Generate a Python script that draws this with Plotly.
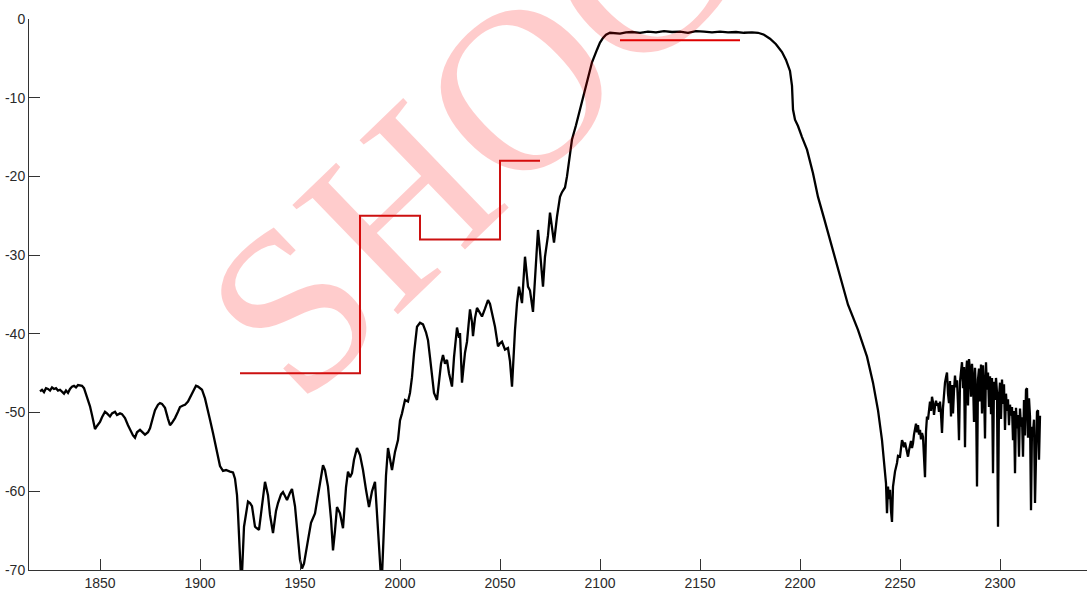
import plotly.graph_objects as go

# Measured filter response (MHz, dB)
freq_mhz = [
    1820, 1821, 1822, 1823, 1824, 1825, 1826, 1827, 1828, 1829, 1830, 1831, 1832, 1833, 1834, 1835,
    1836, 1837, 1838, 1839, 1840, 1841, 1842, 1843, 1844, 1845, 1846, 1847, 1847.5, 1848.5, 1850,
    1851, 1852.5, 1853.5, 1855, 1856, 1857.5, 1858.5, 1860, 1861, 1862.5, 1864, 1865, 1866.5, 1867.5,
    1868.5, 1870, 1871, 1872.5, 1874, 1875, 1876.5, 1877.5, 1879, 1880, 1881, 1882.5, 1884, 1885,
    1886, 1887.5, 1889, 1890, 1891.5, 1892.5, 1894, 1895, 1896.5, 1898, 1899, 1901, 1902.5, 1904,
    1905, 1906.5, 1908.5, 1910, 1911.5, 1913, 1915, 1916.5, 1917.5, 1918.5, 1919, 1920, 1920.5, 1921,
    1922, 1924, 1925, 1926, 1927.5, 1929.5, 1931, 1932.5, 1934, 1935, 1936.5, 1938, 1939, 1940.5,
    1941.5, 1942.5, 1943.5, 1945, 1946, 1947.5, 1948.5, 1950, 1951, 1952, 1954, 1955.5, 1957.5, 1959,
    1961.5, 1962.5, 1964, 1965.5, 1966.5, 1967.5, 1968.5, 1970, 1971.5, 1973, 1974, 1975, 1976, 1977,
    1978.5, 1980, 1981.5, 1983, 1984.5, 1986, 1987.5, 1989, 1990, 1990.5, 1991, 1992, 1993, 1994,
    1995, 1996, 1997.5, 1999, 2000, 2001, 2002.5, 2004, 2005, 2006, 2007, 2008.5, 2010, 2011.5, 2013,
    2014, 2015, 2016, 2017, 2018.5, 2019.5, 2020.5, 2021.5, 2022.5, 2023.5, 2024.5, 2026, 2027,
    2028.5, 2029.5, 2030, 2031, 2032.5, 2033.5, 2035, 2036, 2036.5, 2037.5, 2038.5, 2040, 2041,
    2042.5, 2044, 2045, 2046.5, 2047.5, 2049, 2050, 2051, 2052.5, 2054, 2055, 2056, 2056.5, 2057.5,
    2058.5, 2059.5, 2061, 2062.5, 2064, 2065, 2066.5, 2068, 2069, 2070, 2071.5, 2072.5, 2074, 2075,
    2076, 2077, 2078.5, 2080, 2081, 2082.5, 2083.5, 2084, 2085, 2086, 2088, 2090, 2092, 2094, 2096,
    2098.5, 2100, 2101.5, 2103, 2105, 2107, 2110, 2113, 2116, 2120, 2124, 2128, 2132, 2136, 2140,
    2144, 2148, 2152, 2156, 2160, 2164, 2168, 2172, 2176, 2179, 2182, 2185, 2188, 2191, 2193, 2195,
    2196, 2196.5, 2197.5, 2199, 2201, 2203.5, 2206.5, 2209, 2212, 2216, 2220, 2224, 2229, 2233.5,
    2236.5, 2239, 2241, 2242, 2242.5, 2243, 2243.5, 2244, 2244.5, 2245, 2245.5, 2246, 2246.5, 2247,
    2247.5, 2248.5, 2249, 2250, 2250.5, 2251, 2251.5, 2252, 2252.5, 2253, 2253.5, 2254, 2254.5, 2255,
    2255.5, 2256, 2256.5, 2257, 2257.5, 2258, 2258.5, 2259, 2259.5, 2260, 2260.5, 2261, 2261.5, 2262,
    2262.5, 2263, 2263.5, 2264, 2264.5, 2265, 2265.5, 2266, 2266.5, 2267, 2267.5, 2268, 2268.5, 2269,
    2269.5, 2270, 2270.5, 2271, 2271.5, 2272, 2272.5, 2273, 2273.5, 2274, 2274.5, 2275, 2275.5, 2276,
    2276.5, 2277, 2277.5, 2278, 2278.5, 2279, 2279.5, 2280, 2280.5, 2281, 2281.5, 2282, 2282.5, 2283,
    2283.5, 2284, 2284.5, 2285, 2285.5, 2286, 2286.5, 2287, 2287.5, 2288, 2288.5, 2289, 2289.5, 2290,
    2290.5, 2291, 2291.5, 2292, 2292.5, 2293, 2293.5, 2294, 2294.5, 2295, 2295.5, 2296, 2296.5, 2297,
    2297.5, 2298, 2298.5, 2299, 2299.5, 2300, 2300.5, 2301, 2301.5, 2302, 2302.5, 2303, 2303.5, 2304,
    2304.5, 2305, 2305.5, 2306, 2306.5, 2307, 2307.5, 2308, 2308.5, 2309, 2309.5, 2310, 2310.5, 2311,
    2311.5, 2312, 2312.5, 2313, 2313.5, 2314, 2314.5, 2315, 2315.5, 2316, 2316.5, 2317, 2317.5, 2318,
    2318.5, 2319, 2319.5, 2320,
]

level_db = [
    -47.3, -47.1, -47.4, -46.9, -47.0, -47.2, -46.8, -47.0, -46.9, -47.2, -47.1, -47.4, -47.6, -47.2, -47.5, -47.0,
    -46.7, -46.6, -46.8, -46.5, -46.6, -46.6, -46.9, -47.6, -48.3, -49.2, -50.3, -51.5, -52.1, -51.7, -51.2,
    -50.6, -49.9, -50.1, -50.5, -50.1, -49.9, -50.3, -50.1, -50.2, -50.7, -51.6, -52.2, -52.9, -53.2,
    -52.5, -52.2, -52.4, -52.8, -52.5, -52.0, -50.6, -49.7, -49.0, -48.8, -48.9, -49.4, -50.8, -51.6,
    -51.3, -50.7, -49.9, -49.3, -49.1, -49.0, -48.6, -48.1, -47.3, -46.6, -46.7, -47.1, -48.2, -49.7,
    -50.9, -52.6, -55.1, -56.8, -57.4, -57.3, -57.5, -57.6, -58.4, -60.5, -62.8, -68.0, -71.0, -70.5,
    -64.5, -61.3, -61.5, -61.9, -64.5, -64.9, -61.5, -58.8, -60.5, -63.0, -65.3, -62.5, -61.5, -60.4,
    -60.1, -60.6, -61.1, -60.2, -59.7, -61.9, -64.5, -68.7, -69.8, -69.2, -66.2, -64.0, -62.8, -60.5,
    -56.7, -57.3, -59.4, -63.5, -67.5, -65.0, -62.0, -62.8, -64.7, -59.5, -57.5, -58.2, -57.7, -56.0,
    -54.5, -55.4, -57.3, -59.8, -62.0, -60.0, -58.8, -64.9, -69.0, -71.0, -70.8, -64.1, -58.0, -54.5,
    -55.8, -57.3, -55.0, -53.5, -51.0, -50.1, -48.4, -48.6, -47.5, -45.5, -42.5, -39.1, -38.6, -38.8, -39.8,
    -40.8, -43.0, -45.5, -47.5, -48.4, -46.0, -43.8, -42.7, -43.8, -43.3, -45.0, -46.7, -43.0,
    -39.2, -40.5, -39.9, -46.2, -42.4, -41.0, -36.9, -38.5, -40.3, -38.0, -36.7, -37.4, -37.8,
    -36.8, -35.7, -36.2, -37.8, -39.1, -41.6, -41.2, -41.0, -42.0, -41.8, -43.5, -46.7, -43.7, -39.5,
    -36.1, -34.0, -36.1, -30.2, -34.0, -34.5, -37.2, -31.0, -26.8, -29.5, -34.0, -30.2, -27.5, -24.6,
    -26.5, -28.4, -25.1, -22.6, -22.0, -21.4, -20.0, -19.1, -17.0, -15.3, -13.5, -11.5, -9.4, -7.3, -5.5,
    -3.9, -3.0, -2.4, -2.0, -1.75, -1.8, -1.85, -1.7, -1.65, -1.75, -1.6, -1.7, -1.55, -1.65, -1.6,
    -1.75, -1.55, -1.6, -1.7, -1.6, -1.7, -1.65, -1.75, -1.7, -1.75, -2.0, -2.5, -3.2, -4.2, -5.2, -6.6,
    -8.5, -11.5, -12.8, -13.6, -15.0, -16.6, -19.6, -22.6, -25.3, -28.9, -32.6, -36.3, -39.5, -42.9,
    -46.2, -49.7, -53.5, -56.0, -57.3, -59.0, -62.8, -59.4, -61.0, -59.8, -62.5, -63.9, -59.4, -58.2,
    -57.5, -56.4, -55.5, -55.6, -54.2, -53.5, -53.8, -54.4, -53.8, -54.6, -55.2, -55.6, -54.8, -54.2,
    -53.6, -54.5, -53.9, -52.8, -52.0, -51.4, -52.5, -51.6, -52.8, -52.2, -53.4, -52.6, -53.1, -55.0,
    -58.2, -52.4, -50.5, -50.9, -49.6, -48.6, -49.8, -48.0, -48.7, -50.3, -49.2, -48.5, -49.1, -48.8,
    -49.9, -48.6, -50.2, -52.6, -49.4, -47.3, -46.2, -45.5, -44.9, -47.6, -48.8, -46.0, -50.5, -46.5,
    -50.1, -47.2, -45.3, -46.8, -45.9, -48.9, -53.5, -46.1, -44.5, -43.6, -46.9, -44.2, -54.4, -45.2,
    -43.4, -49.1, -43.2, -44.6, -48.0, -43.8, -45.7, -51.2, -44.3, -47.5, -59.4, -45.8, -44.4, -48.6,
    -43.9, -50.1, -44.0, -46.5, -53.3, -43.6, -47.1, -44.9, -49.3, -45.4, -50.2, -45.6, -57.7, -46.1,
    -48.4, -45.6, -47.5, -64.5, -48.0, -46.2, -50.8, -45.8, -48.9, -46.4, -52.2, -47.6, -49.8, -48.3,
    -51.6, -49.0, -50.4, -49.3, -53.5, -49.8, -57.7, -49.4, -52.0, -50.3, -55.6, -49.5, -51.8, -50.6,
    -55.6, -48.4, -52.9, -47.1, -46.9, -53.2, -48.2, -50.5, -62.4, -51.8, -52.6, -50.9, -61.5, -53.0,
    -49.9, -49.7, -56.0, -50.4,
]

# Rejection mask (stepped limit line) and passband limit
mask_freq = [1920, 1980, 1980, 2010, 2010, 2050, 2050, 2070]
mask_db = [-45, -45, -25, -25, -28, -28, -18, -18]
pass_freq = [2110, 2170]
pass_db = [-2.7, -2.7]

x_ticks = [1850, 1900, 1950, 2000, 2050, 2100, 2150, 2200, 2250, 2300]
y_ticks = [0, -10, -20, -30, -40, -50, -60, -70]
y_tick_text = ["0", "-10", "-20", "-30", "-40", "-50", "-60", "-70"]

mask_color = "#cc1010"

fig = go.Figure()
fig.add_trace(go.Scatter(x=freq_mhz, y=level_db, mode="lines",
                         line=dict(color="black", width=2.3), hoverinfo="skip"))
fig.add_trace(go.Scatter(x=mask_freq, y=mask_db, mode="lines",
                         line=dict(color=mask_color, width=2), hoverinfo="skip"))
fig.add_trace(go.Scatter(x=pass_freq, y=pass_db, mode="lines",
                         line=dict(color="#dd0000", width=2), hoverinfo="skip"))

# Diagonal watermark text
fig.add_annotation(text="SHOC", xref="paper", yref="paper", x=0.415, y=0.785,
                   xanchor="center", yanchor="middle",
                   showarrow=False, textangle=-44,
                   font=dict(family="Liberation Serif", size=232, color="rgba(255,0,0,0.2)"))

axis_font = dict(family="Liberation Sans, Arial", size=14, color="#2a2a2a")
fig.update_layout(
    width=1087, height=593,
    margin=dict(l=29, r=0, t=19, b=23),
    paper_bgcolor="white", plot_bgcolor="white",
    showlegend=False,
    xaxis=dict(range=[1814.5, 2343.5], tickvals=x_ticks, ticks="inside", ticklen=11,
               tickcolor="#333", showline=True, linecolor="#333", linewidth=1,
               showgrid=False, zeroline=False, tickfont=axis_font),
    yaxis=dict(range=[-70, 0], tickvals=y_ticks, ticktext=y_tick_text, ticks="inside",
               ticklen=11, tickcolor="#333", showline=True, linecolor="#333", linewidth=1,
               showgrid=False, zeroline=False, tickfont=axis_font),
)

fig.write_html("out.html")
